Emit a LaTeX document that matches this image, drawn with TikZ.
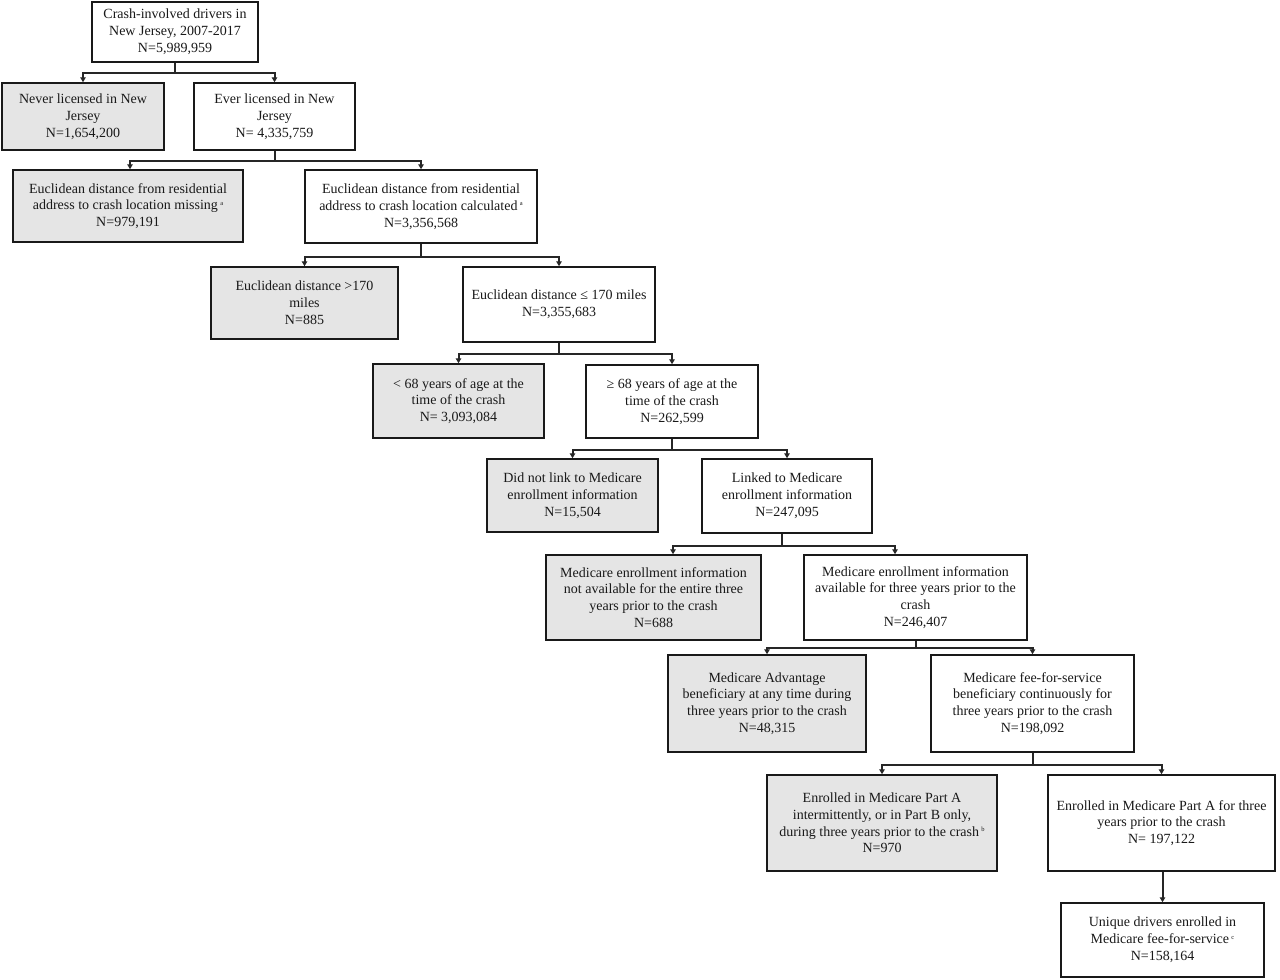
\documentclass[tikz,border=0pt]{standalone}
\usepackage{fontspec}
\setmainfont{Liberation Serif}
\usetikzlibrary{arrows.meta,calc}
\newcommand{\supmark}[1]{\,{\fontsize{6.5}{6.5}\selectfont\raisebox{4.5pt}{#1}}}
\begin{document}
\begin{tikzpicture}[x=1pt,y=-1pt,
  box/.style={draw=black!90, line width=1.5pt, align=center, inner sep=0pt,
    text=black!90, font=\fontsize{14}{16.8}\selectfont},
  grey/.style={box, fill=black!10},
  white/.style={box, fill=white},
  conn/.style={draw=black!85, line width=2pt},
  arr/.style={conn, -{Triangle[width=5.5pt,length=5pt]}}]
\useasboundingbox[fill=white] (0,0) rectangle (1280,980);

\node[white, minimum width=166, minimum height=60] (top) at (175,32)
  {Crash-involved drivers in\\New Jersey, 2007-2017\\N=5,989,959};
\node[grey, minimum width=162, minimum height=67] (never) at (83,116.5)
  {Never licensed in New\\Jersey\\N=1,654,200};
\node[white, minimum width=161, minimum height=67] (ever) at (274.5,116.5)
  {Ever licensed in New\\Jersey\\N= 4,335,759};
\node[grey, minimum width=230, minimum height=72] (missing) at (128,206)
  {Euclidean distance from residential\\address to crash location missing\supmark{a}\\N=979,191};
\node[white, minimum width=232, minimum height=73] (calc) at (421,206.5)
  {Euclidean distance from residential\\address to crash location calculated\supmark{a}\\N=3,356,568};
\node[grey, minimum width=187, minimum height=72] (gt170) at (304.5,303)
  {Euclidean distance >170\\miles\\N=885};
\node[white, minimum width=192, minimum height=75] (le170) at (559,304.5)
  {Euclidean distance ≤ 170 miles\\N=3,355,683};
\node[grey, minimum width=171, minimum height=74] (lt68) at (458.5,401)
  {< 68 years of age at the\\time of the crash\\N= 3,093,084};
\node[white, minimum width=172, minimum height=73] (ge68) at (672,401.5)
  {≥ 68 years of age at the\\time of the crash\\N=262,599};
\node[grey, minimum width=171, minimum height=73] (nolink) at (572.5,495.5)
  {Did not link to Medicare\\enrollment information\\N=15,504};
\node[white, minimum width=170, minimum height=74] (linked) at (787,496)
  {Linked to Medicare\\enrollment information\\N=247,095};
\node[grey, minimum width=215, minimum height=85] (notavail) at (653.5,597.5)
  {Medicare enrollment information\\not available for the entire three\\years prior to the crash\\N=688};
\node[white, minimum width=223, minimum height=85] (avail) at (915.5,597.5)
  {Medicare enrollment information\\available for three years prior to the\\crash\\N=246,407};
\node[grey, minimum width=198, minimum height=97] (adv) at (767,703.5)
  {Medicare Advantage\\beneficiary at any time during\\three years prior to the crash\\N=48,315};
\node[white, minimum width=203, minimum height=97] (ffs) at (1032.5,703.5)
  {Medicare fee-for-service\\beneficiary continuously for\\three years prior to the crash\\N=198,092};
\node[grey, minimum width=230, minimum height=96] (partAint) at (882,823)
  {Enrolled in Medicare Part A\\intermittently, or in Part B only,\\during three years prior to the crash\supmark{b}\\N=970};
\node[white, minimum width=227, minimum height=96] (partAthree) at (1161.5,823)
  {Enrolled in Medicare Part A for three\\years prior to the crash\\N= 197,122};
\node[white, minimum width=203, minimum height=74] (unique) at (1162.5,940)
  {Unique drivers enrolled in\\Medicare fee-for-service\supmark{c}\\N=158,164};

% junctions
\coordinate (j1) at ($(top.south)+(0,10)$);
\coordinate (j2) at ($(ever.south)+(0,10)$);
\coordinate (j3) at ($(calc.south)+(0,13)$);
\coordinate (j4) at ($(le170.south)+(0,11)$);
\coordinate (j5) at ($(ge68.south)+(0,11)$);
\coordinate (j6) at ($(linked.south)+(-5,12)$);
\coordinate (j7) at ($(avail.south)+(0,7)$);
\coordinate (j8) at ($(ffs.south)+(0,12)$);

\draw[conn] (top.south) -- (j1);
\draw[arr] (j1) -| (never.north);
\draw[arr] (j1) -| (ever.north);

\draw[conn] (ever.south) -- (j2);
\draw[arr] (j2) -| ([xshift=2pt]missing.north);
\draw[arr] (j2) -| (calc.north);

\draw[conn] (calc.south) -- (j3);
\draw[arr] (j3) -| (gt170.north);
\draw[arr] (j3) -| (le170.north);

\draw[conn] (le170.south) -- (j4);
\draw[arr] (j4) -| (lt68.north);
\draw[arr] (j4) -| (ge68.north);

\draw[conn] (ge68.south) -- (j5);
\draw[arr] (j5) -| (nolink.north);
\draw[arr] (j5) -| (linked.north);

\draw[conn] ([xshift=-5pt]linked.south) -- (j6);
\draw[arr] (j6) -| ([xshift=19.5pt]notavail.north);
\draw[arr] (j6) -| ([xshift=-20.5pt]avail.north);

\draw[conn] (avail.south) -- (j7);
\draw[arr] (j7) -| (adv.north);
\draw[arr] (j7) -| (ffs.north);

\draw[conn] (ffs.south) -- (j8);
\draw[arr] (j8) -| (partAint.north);
\draw[arr] (j8) -| (partAthree.north);

\draw[arr] (unique.north |- partAthree.south) -- (unique.north);
\end{tikzpicture}
\end{document}
